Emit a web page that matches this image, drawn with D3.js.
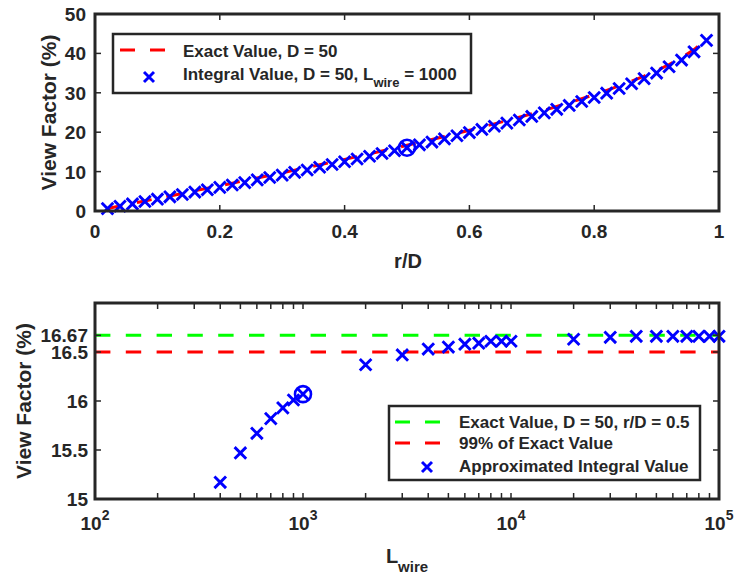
<!DOCTYPE html>
<html>
<head>
<meta charset="utf-8">
<script src="https://cdn.jsdelivr.net/npm/d3@7"></script>
<style>
  html, body { margin: 0; padding: 0; background: #fff; }
  svg text { font-family: "Liberation Sans", Arial, Helvetica, sans-serif; font-weight: bold; fill: #262626; }
</style>
</head>
<body>
<svg id="chart" width="735" height="579"></svg>
<script>
// ---------- DATA ----------
const rOverD = [0.02,0.04,0.06,0.08,0.10,0.12,0.14,0.16,0.18,0.20,0.22,0.24,0.26,0.28,0.30,0.32,0.34,0.36,0.38,0.40,
  0.42,0.44,0.46,0.48,0.50,0.52,0.54,0.56,0.58,0.60,0.62,0.64,0.66,0.68,0.70,0.72,0.74,0.76,0.78,0.80,
  0.82,0.84,0.86,0.88,0.90,0.92,0.94,0.96,0.98];
const exactVF = [0.64,1.27,1.91,2.55,3.19,3.83,4.47,5.12,5.76,6.41,7.06,7.72,8.37,9.03,9.70,10.37,11.04,11.72,12.41,13.10,
  13.80,14.50,15.22,15.94,16.67,17.41,18.16,18.92,19.70,20.48,21.29,22.11,22.94,23.80,24.68,25.59,26.52,27.48,28.48,29.52,
  30.60,31.75,32.96,34.25,35.64,37.18,38.92,40.97,43.62];
const integralVF = [0.6,1.2,1.8,2.4,3.0,3.6,4.2,4.8,5.4,6.0,6.6,7.2,7.9,8.5,9.1,9.8,10.4,11.1,11.8,12.5,
  13.2,13.9,14.6,15.3,16.07,16.8,17.5,18.3,19.1,19.9,20.7,21.5,22.3,23.1,24.0,24.9,25.8,26.8,27.8,28.8,
  29.9,31.1,32.3,33.6,35.0,36.6,38.3,40.4,43.3];
const topHighlight = {x: 0.5, y: 16.07};
const topXTicks = [0, 0.2, 0.4, 0.6, 0.8, 1];
const topYTicks = [0, 10, 20, 30, 40, 50];

const Lwire = [400,500,600,700,800,900,1000,2000,3000,4000,5000,6000,7000,8000,9000,10000,
  20000,30000,40000,50000,60000,70000,80000,90000,100000];
const approxVF = [15.17,15.47,15.67,15.82,15.93,16.01,16.07,16.37,16.47,16.53,16.55,16.58,16.59,16.61,16.61,16.61,
  16.63,16.65,16.66,16.66,16.66,16.66,16.66,16.66,16.66];
const exactValue = 16.67;
const ninetyNinePct = 16.5;
const botHighlight = {x: 1000, y: 16.07};
const botXTickExps = [2, 3, 4, 5];
const botYTicks = [15, 15.5, 16, 16.5, 16.67];
const botYTickLabels = ["15", "15.5", "16", "16.5", "16.67"];

// ---------- DRAW ----------
const svg = d3.select("#chart");
svg.append("rect").attr("width", 735).attr("height", 579).attr("fill", "#fff");
const AX = "#262626", BLUE = "#0000ff", RED = "#ff0000", GREEN = "#00ff00";
const TICK = 6, TFS = 19, LFS = 21, LEGFS = 17;

function xMarker(g, x, y, h) {
  g.append("path")
    .attr("d", `M${x-h},${y-h}L${x+h},${y+h}M${x-h},${y+h}L${x+h},${y-h}`)
    .attr("stroke", BLUE).attr("stroke-width", 2.9).attr("fill", "none");
}

// ===== Top plot =====
const L = 95, R = 719;
const xT = d3.scaleLinear().domain([0, 1]).range([L, R]);
const yT = d3.scaleLinear().domain([0, 50]).range([211, 14]);
const gT = svg.append("g");

gT.append("path")
  .attr("d", d3.line().x((d, i) => xT(rOverD[i])).y(d => yT(d))(exactVF))
  .attr("fill", "none").attr("stroke", RED).attr("stroke-width", 3)
  .attr("stroke-dasharray", "15,15");
rOverD.forEach((r, i) => xMarker(gT, xT(r), yT(integralVF[i]), 5.8));
gT.append("circle").attr("cx", xT(topHighlight.x)).attr("cy", yT(topHighlight.y)).attr("r", 8)
  .attr("fill", "none").attr("stroke", BLUE).attr("stroke-width", 2.6);

const tT = gT.append("g").attr("stroke", AX).attr("stroke-width", 1.5);
topXTicks.forEach(t => {
  tT.append("line").attr("x1", xT(t)).attr("x2", xT(t)).attr("y1", 211).attr("y2", 211 - TICK);
  tT.append("line").attr("x1", xT(t)).attr("x2", xT(t)).attr("y1", 14).attr("y2", 14 + TICK);
});
topYTicks.forEach(t => {
  tT.append("line").attr("x1", L).attr("x2", L + TICK).attr("y1", yT(t)).attr("y2", yT(t));
  tT.append("line").attr("x1", R).attr("x2", R - TICK).attr("y1", yT(t)).attr("y2", yT(t));
});
gT.append("rect").attr("x", L).attr("y", 14).attr("width", R - L).attr("height", 211 - 14)
  .attr("fill", "none").attr("stroke", AX).attr("stroke-width", 3);
topXTicks.forEach(t => {
  gT.append("text").attr("x", xT(t)).attr("y", 238).attr("text-anchor", "middle")
    .attr("font-size", TFS).text(d3.format("")(t));
});
topYTicks.forEach(t => {
  gT.append("text").attr("x", 86).attr("y", yT(t) + 7).attr("text-anchor", "end")
    .attr("font-size", TFS).text(t);
});
gT.append("text").attr("x", 408).attr("y", 268).attr("text-anchor", "middle").attr("font-size", 20).text("r/D");
gT.append("text").attr("transform", `translate(56,${(14 + 211) / 2}) rotate(-90)`)
  .attr("text-anchor", "middle").attr("font-size", LFS).text("View Factor (%)");

// top legend
const lgT = gT.append("g");
lgT.append("rect").attr("x", 113).attr("y", 34).attr("width", 358).attr("height", 59)
  .attr("fill", "#fff").attr("stroke", AX).attr("stroke-width", 2.5);
lgT.append("line").attr("x1", 120).attr("x2", 165).attr("y1", 50).attr("y2", 50)
  .attr("stroke", RED).attr("stroke-width", 3).attr("stroke-dasharray", "15,15");
xMarker(lgT, 149, 77, 5);
lgT.append("text").attr("x", 183).attr("y", 57).attr("font-size", LEGFS).text("Exact Value, D = 50");
const t2 = lgT.append("text").attr("x", 183).attr("y", 80).attr("font-size", LEGFS);
t2.append("tspan").text("Integral Value, D = 50, L");
t2.append("tspan").attr("dy", 7).attr("font-size", 13).text("wire");
t2.append("tspan").attr("dy", -7).text(" = 1000");

// ===== Bottom plot =====
const xB = d3.scaleLog().domain([1e2, 1e5]).range([L, R]);
const yB = d3.scaleLinear().domain([15, 17]).range([499, 303]);
const gB = svg.append("g");

gB.append("line").attr("x1", L).attr("x2", R).attr("y1", yB(exactValue)).attr("y2", yB(exactValue))
  .attr("stroke", GREEN).attr("stroke-width", 3).attr("stroke-dasharray", "15.4,15.4");
gB.append("line").attr("x1", L).attr("x2", R).attr("y1", yB(ninetyNinePct)).attr("y2", yB(ninetyNinePct))
  .attr("stroke", RED).attr("stroke-width", 3).attr("stroke-dasharray", "15.4,15.4");
Lwire.forEach((l, i) => xMarker(gB, xB(l), yB(approxVF[i]), 5.8));
gB.append("circle").attr("cx", xB(botHighlight.x)).attr("cy", yB(botHighlight.y)).attr("r", 8)
  .attr("fill", "none").attr("stroke", BLUE).attr("stroke-width", 2.6);

const tB = gB.append("g").attr("stroke", AX).attr("stroke-width", 1.5);
const logTicks = [];
for (let e = 2; e < 5; e++) for (let m = 1; m < 10; m++) logTicks.push(m * Math.pow(10, e));
logTicks.push(1e5);
logTicks.forEach(t => {
  tB.append("line").attr("x1", xB(t)).attr("x2", xB(t)).attr("y1", 499).attr("y2", 499 - TICK);
  tB.append("line").attr("x1", xB(t)).attr("x2", xB(t)).attr("y1", 303).attr("y2", 303 + TICK);
});
botYTicks.forEach(t => {
  tB.append("line").attr("x1", L).attr("x2", L + TICK).attr("y1", yB(t)).attr("y2", yB(t));
  tB.append("line").attr("x1", R).attr("x2", R - TICK).attr("y1", yB(t)).attr("y2", yB(t));
});
gB.append("rect").attr("x", L).attr("y", 303).attr("width", R - L).attr("height", 499 - 303)
  .attr("fill", "none").attr("stroke", AX).attr("stroke-width", 3);
botXTickExps.forEach(e => {
  const tx = gB.append("text").attr("x", xB(Math.pow(10, e))).attr("y", 530).attr("text-anchor", "middle")
    .attr("font-size", TFS);
  tx.append("tspan").text("10");
  tx.append("tspan").attr("dy", -10).attr("font-size", 14).text(e);
});
botYTicks.forEach((t, i) => {
  gB.append("text").attr("x", 88).attr("y", yB(t) + 7).attr("text-anchor", "end")
    .attr("font-size", TFS).text(botYTickLabels[i]);
});
const lx = gB.append("text").attr("x", 407).attr("y", 563).attr("text-anchor", "middle").attr("font-size", 20);
lx.append("tspan").text("L");
lx.append("tspan").attr("dy", 9).attr("font-size", 15).text("wire");
gB.append("text").attr("transform", `translate(31,${(303 + 499) / 2}) rotate(-90)`)
  .attr("text-anchor", "middle").attr("font-size", LFS).text("View Factor (%)");

// bottom legend
const lgB = gB.append("g");
lgB.append("rect").attr("x", 389).attr("y", 406).attr("width", 311).attr("height", 74)
  .attr("fill", "#fff").attr("stroke", AX).attr("stroke-width", 2.5);
lgB.append("line").attr("x1", 395).attr("x2", 443).attr("y1", 422).attr("y2", 422)
  .attr("stroke", GREEN).attr("stroke-width", 3).attr("stroke-dasharray", "15,15");
lgB.append("line").attr("x1", 395).attr("x2", 443).attr("y1", 443).attr("y2", 443)
  .attr("stroke", RED).attr("stroke-width", 3).attr("stroke-dasharray", "15,15");
xMarker(lgB, 427, 467, 5);
lgB.append("text").attr("x", 459).attr("y", 428).attr("font-size", LEGFS).text("Exact Value, D = 50, r/D = 0.5");
lgB.append("text").attr("x", 459).attr("y", 449).attr("font-size", LEGFS).text("99% of Exact Value");
lgB.append("text").attr("x", 459).attr("y", 472).attr("font-size", LEGFS).text("Approximated Integral Value");
</script>
</body>
</html>
